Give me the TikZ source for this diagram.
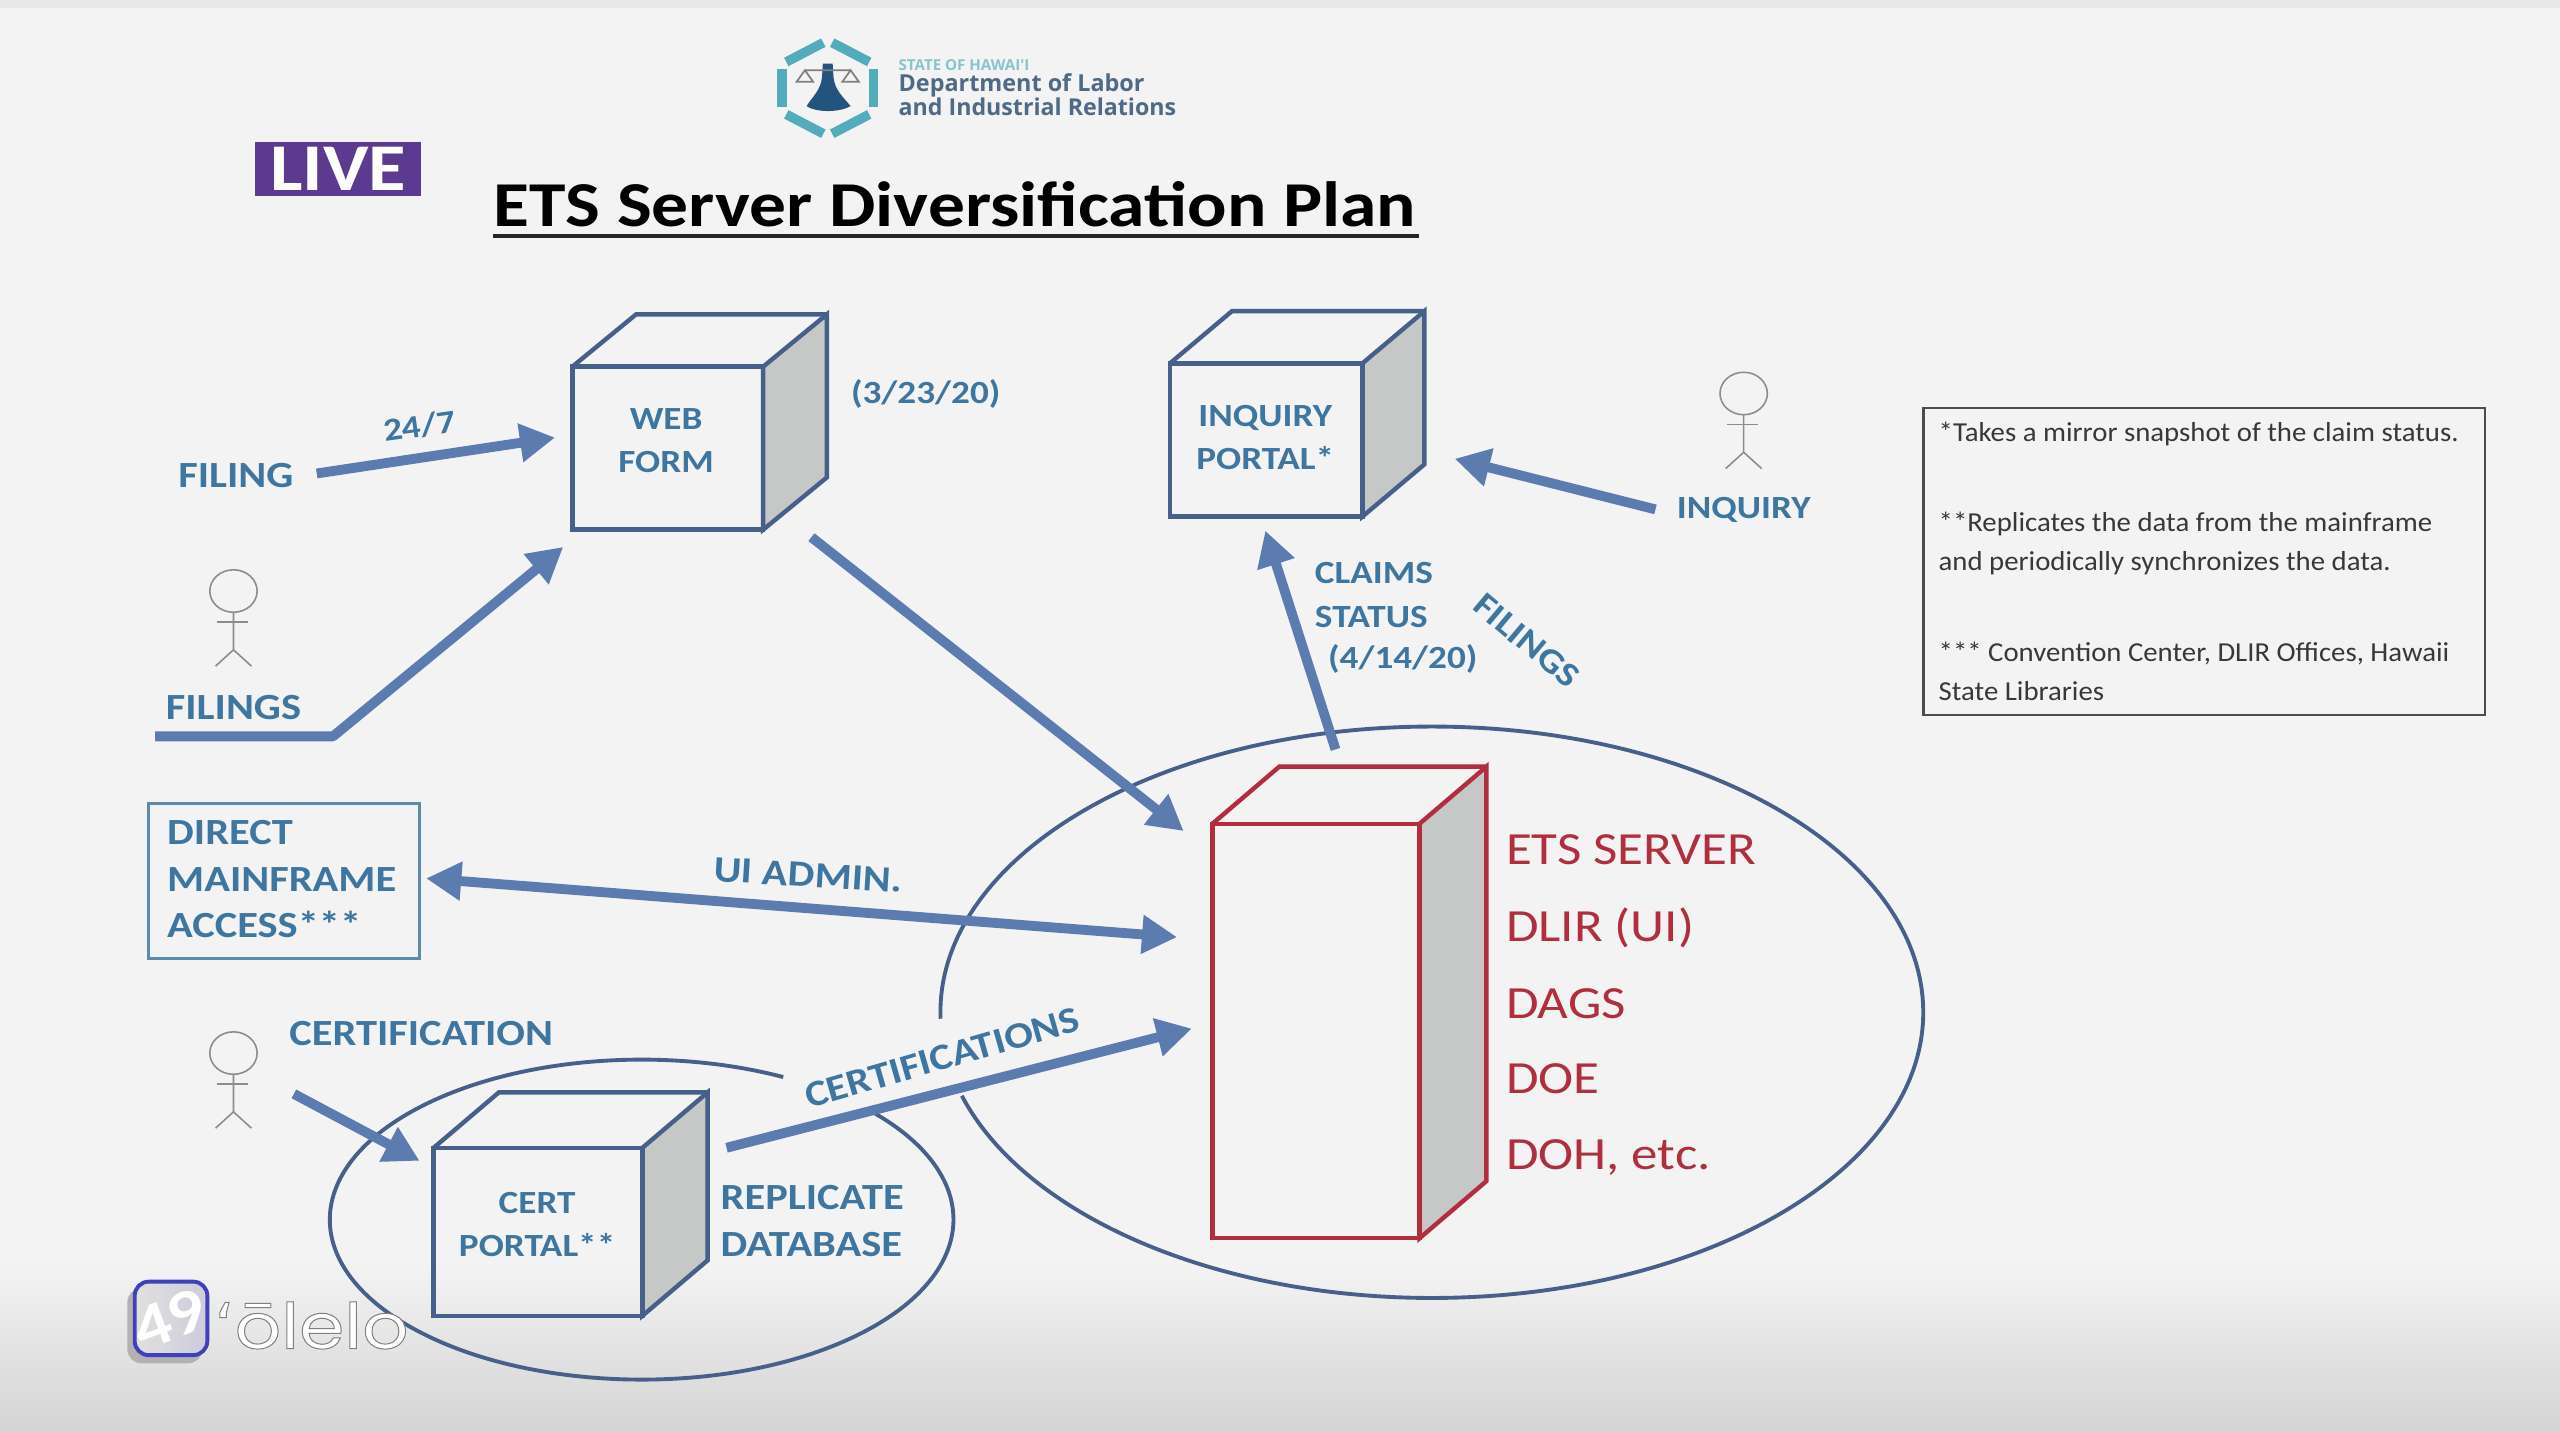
\documentclass[tikz,border=0pt]{standalone}
\usepackage{fontspec}
\setmainfont[FakeStretch=1.15]{Carlito}
\newfontfamily\notefont[FakeStretch=1.05]{Carlito}
\newfontfamily\logofont{Open Sans}
\newfontfamily\waterfont[FakeStretch=1.15,FakeBold=1.6]{Poppins}
\newfontfamily\okinafont[FakeBold=1.6]{DejaVu Sans}
\usepackage{xcolor}
\usetikzlibrary{arrows.meta,positioning,calc}
\definecolor{pagegray}{HTML}{F2F3F2}
\definecolor{labelblue}{HTML}{3F769F}
\definecolor{arrowblue}{HTML}{5C7CB0}
\definecolor{edgeblue}{HTML}{46608A}
\definecolor{serverred}{HTML}{B02E3E}
\definecolor{sidegray}{HTML}{C6C7C7}
\definecolor{logoteal}{HTML}{53ABBB}
\definecolor{logonavy}{HTML}{22547E}
\definecolor{logotext}{HTML}{4F6A85}
\definecolor{liveviolet}{HTML}{5B3A8F}
\newcommand{\fs}[1]{\fontsize{#1}{#1}\selectfont}
\newcommand{\px}[1]{#1*0.16327mm}
% front face is a node, the top and side are drawn off its corners
\newcommand{\cubeparts}[4]{%
  \filldraw[#4,fill=sidegray] (#1.north east) -- ++(#2,-#3) -- ($(#1.south east)+(#2,-#3)$) -- (#1.south east) -- cycle;
  \draw[#4] (#1.north west) -- ++(#2,-#3) -- ($(#1.north east)+(#2,-#3)$);
}
\newcommand{\stickman}[2]{%
  \draw[stick] (#1,#2) ellipse[x radius=14.5,y radius=13];
  \draw[stick] (#1,#2+13) -- (#1,#2+36) -- (#1-11,#2+46) (#1,#2+36) -- (#1+11,#2+46);
  \draw[stick] (#1-10,#2+19) -- (#1+9,#2+19);
}
\begin{document}
\begin{tikzpicture}[
  x=0.16327mm,y=-0.16327mm,
  arr/.style={-{Triangle[length=10pt,width=10.5pt]},line width=2.8pt,draw=arrowblue},
  twoarr/.style={{Triangle[length=10pt,width=10.5pt]}-{Triangle[length=10pt,width=10.5pt]},line width=2.8pt,draw=arrowblue},
  lbl/.style={text=labelblue,font=\bfseries\fs{10.5},inner sep=0pt},
  lblthin/.style={text=labelblue,font=\bfseries\fs{9.2},inner sep=0pt,align=center},
  redlbl/.style={text=serverred,font=\fs{13.1},inner sep=0pt,anchor=west},
  note/.style={text=black!78,font=\notefont\fs{7.8},inner sep=0pt,anchor=west},
  cubeedge/.style={line width=1.25pt,draw=edgeblue},
  rededge/.style={line width=1.25pt,draw=serverred},
  front/.style={rectangle,inner sep=0pt,align=center},
  ring/.style={line width=1.1pt,draw=edgeblue},
  stick/.style={line width=.45pt,draw=black!45}
]
\useasboundingbox (0,0) rectangle (1568,876.5);
\fill[pagegray] (0,0) rectangle (1568,876.5);
\fill[black!9] (0,0) rectangle (1568,5);
\shade[top color=pagegray,bottom color=black!17] (0,775) rectangle (1568,876.5);

% rings round the servers
\draw[ring] (877,620) ++(178.7:301 and 175) arc[start angle=178.7,end angle=523,x radius=301,y radius=175];
\draw[ring] (393,747) ++(-41.5:191 and 98) arc[start angle=-41.5,end angle=297,x radius=191,y radius=98];

% logo and headings
\foreach \a in {30,90,150,210,270,330}
  \draw[logoteal,line width=2.7pt] ($(507,54)+(\a+5:31 and 28)$) -- ($(507,54)+(\a+55:31 and 28)$);
\fill[logonavy] (504,39) -- (510,39) -- (510.5,47) .. controls (511,55) and (517,60) .. (521,65) .. controls (514,69) and (500,69) .. (494,65) .. controls (497,60) and (503,55) .. (503.5,47) -- cycle;
\draw[black!50,line width=.5pt] (493,43) -- (521,43) (493,43) -- (488,50) -- (498,50) -- cycle (521,43) -- (516,50) -- (526,50) -- cycle;
\node[inner sep=0pt,anchor=west,text=logoteal!70,font=\logofont\bfseries\fs{4.3}] (statename) at (550,40) {STATE OF HAWAI'I};
\node[inner sep=0pt,anchor=west,text=logotext,font=\logofont\bfseries\fs{6.65}] (deptname) at (550,52) {Department of Labor};
\node[inner sep=0pt,anchor=west,text=logotext,font=\logofont\bfseries\fs{6.6}] (deptname2) at (550,65.5) {and Industrial Relations};
\node[rectangle,fill=liveviolet,text=white,font=\bfseries\fs{19},minimum width=\px{102},minimum height=\px{33},inner sep=0pt] (livetag) at (207,103.5) {LIVE};
\node[inner sep=0pt,anchor=base west,font=\bfseries\fs{18.2}] (title) at (302,139) {ETS Server Diversification Plan};
\draw[line width=1.1pt,black!85] (302,144.5) -- (869,144.5);

% cubes
\node[front,minimum width=\px{116},minimum height=\px{99}] (webform) at (409,274.5) {};
\cubeparts{webform}{39}{32}{cubeedge}
\draw[cubeedge] (webform.south west) rectangle (webform.north east);
\node[lblthin] (weblabel) at (408,270) {WEB\\[3.2pt]FORM};
\node[front,minimum width=\px{117},minimum height=\px{93}] (inqportal) at (775.5,269.5) {};
\cubeparts{inqportal}{38}{32}{cubeedge}
\draw[cubeedge] (inqportal.south west) rectangle (inqportal.north east);
\node[lblthin] (inqlabel) at (775,268) {INQUIRY\\[3.2pt]PORTAL*};
\node[front,minimum width=\px{127},minimum height=\px{102}] (certportal) at (329.5,754.5) {};
\cubeparts{certportal}{40}{34}{cubeedge}
\draw[cubeedge] (certportal.south west) rectangle (certportal.north east);
\node[lblthin] (certlabel) at (329,750) {CERT\\[3.2pt]PORTAL**};
\node[front,minimum width=\px{126},minimum height=\px{253}] (etsserver) at (806,631.5) {};
\cubeparts{etsserver}{41}{35}{rededge}
\draw[rededge] (etsserver.south west) rectangle (etsserver.north east);
\node[redlbl] (etsname) at (922,520.5) {ETS SERVER};
\node[redlbl] (dlirname) at (922,568) {DLIR (UI)};
\node[redlbl] (dagsname) at (922,614.5) {DAGS};
\node[redlbl] (doename) at (922,661) {DOE};
\node[redlbl] (dohname) at (922,709) {DOH, etc.};

% people
\stickman{143}{362}
\stickman{143}{645}
\stickman{1068}{241}

% mainframe and notes
\node[rectangle,draw=labelblue!85,line width=.7pt,minimum width=\px{166},minimum height=\px{95}] (mainframe) at (174,539.5) {};
\node[lbl,anchor=west,align=left] (mainlabel) at (102,538.5) {DIRECT\\[2.7pt]MAINFRAME\\[2.7pt]ACCESS***};
\node[rectangle,draw=black!70,line width=.7pt,minimum width=\px{344},minimum height=\px{188}] (notebox) at (1350,344) {};
\node[note] (note1) at (1187,265.5) {*Takes a mirror snapshot of the claim status.};
\node[note] (note2) at (1187,321) {**Replicates the data from the mainframe};
\node[note] (note3) at (1187,345) {and periodically synchronizes the data.};
\node[note] (note4) at (1187,400.5) {*** Convention Center, DLIR Offices, Hawaii};
\node[note] (note5) at (1187,423) {State Libraries};

% labels
\node[lbl] (filing) at (144.5,291) {FILING};
\node[lbl] (filings) at (143,433.5) {FILINGS};
\node[lbl] (certification) at (258,633) {CERTIFICATION};
\node[lblthin] (inquiry) at (1068,312.5) {INQUIRY};
\node[lblthin,rotate=8] (allday) at (257,261) {24/7};
\node[lblthin] (webdate) at (567,241.5) {(3/23/20)};
\node[lblthin,anchor=west,align=left] (claims) at (805,364.5) {CLAIMS\\[3.2pt]STATUS};
\node[lblthin,anchor=west] (claimdate) at (813,403.5) {(4/14/20)};
\node[lblthin,rotate=-40,font=\bfseries\fs{9.8}] (filingsup) at (935,392.5) {FILINGS};
\node[lbl,rotate=-3.5] (uiadmin) at (495,536) {UI ADMIN.};
\node[lbl,rotate=16] (certifications) at (577,648) {CERTIFICATIONS};
\node[lbl,anchor=west,align=left] (replicate) at (441,748) {REPLICATE\\[3pt]DATABASE};

% connectors
\coordinate (filingout) at (194,290);
\coordinate (webin) at (340,268);
\coordinate (filingsout) at (95,451);
\coordinate (filingsbend) at (204,451);
\coordinate (webin2) at (345,335);
\coordinate (webout) at (497,329);
\coordinate (serverin) at (725,509);
\coordinate (mainend) at (261,538);
\coordinate (serverin2) at (721,574);
\coordinate (personout) at (180,670);
\coordinate (certin) at (257,711);
\coordinate (certout) at (445,703);
\coordinate (serverin3) at (730,630);
\coordinate (serverout) at (818,459);
\coordinate (inqin) at (775,325);
\coordinate (personout2) at (1014,312);
\coordinate (inqin2) at (891,281);
\draw[arr] (filingout)--(webin);
\draw[arr,line join=round] (filingsout)--(filingsbend)--(webin2);
\draw[arr] (webout)--(serverin);
\draw[twoarr] (mainend)--(serverin2);
\draw[arr] (personout)--(certin);
\draw[arr] (certout)--(serverin3);
\draw[arr] (serverout)--(inqin);
\draw[arr] (personout2)--(inqin2);

% station mark
\fill[black!30,rounded corners=4] (78,789) rectangle (124,835);
\shade[left color=black!12,right color=blue!30!black!20,rounded corners=4,draw=blue!65!black!75,line width=1.1pt] (82.5,785) rectangle (127,830) ;
\node[text=white,font=\bfseries\fs{18},rotate=20,inner sep=0pt] (stationnum) at (104,808) {49};
\node[text=white,font=\waterfont\fs{18},inner sep=0pt,anchor=base west] (stationmark) at (131,826) {\special{pdf:code 0.5 G}{\okinafont ʻ}ōlelo};
\end{tikzpicture}
\end{document}
